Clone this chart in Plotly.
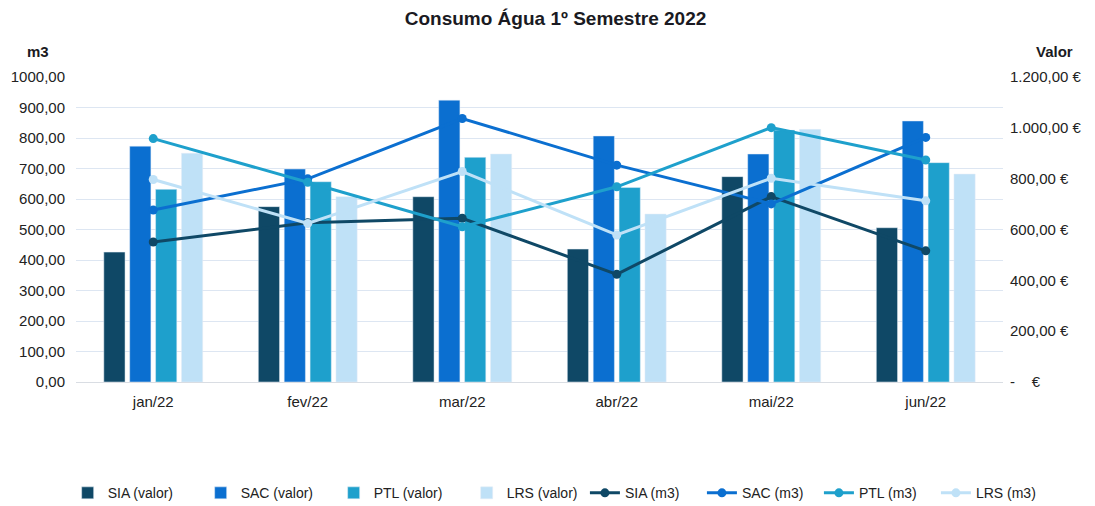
import plotly.graph_objects as go

months = ["jan/22", "fev/22", "mar/22", "abr/22", "mai/22", "jun/22"]

# valor (€) - bars, right axis
sia_valor = [511, 690, 729, 523, 808, 607]
sac_valor = [928, 838, 1109, 968, 897, 1027]
ptl_valor = [758, 788, 884, 765, 991, 863]
lrs_valor = [900, 729, 897, 661, 994, 818]

# consumo (m3) - lines, left axis
sia_m3 = [459, 522, 537, 353, 608, 430]
sac_m3 = [564, 666, 864, 711, 584, 802]
ptl_m3 = [798, 655, 509, 640, 834, 728]
lrs_m3 = [664, 520, 690, 482, 668, 594]

left_ticks = list(range(0, 1001, 100))
left_text = [f"{v},00" for v in left_ticks]
right_ticks = list(range(0, 1201, 200))
right_text = ["-\u00a0\u00a0\u00a0\u00a0€", "200,00 €", "400,00 €", "600,00 €",
              "800,00 €", "1.000,00 €", "1.200,00 €"]

colors = {"SIA": "#0f4866", "SAC": "#0b6fd0", "PTL": "#1ea0cc", "LRS": "#bfe1f7"}
font_family = "Liberation Sans Narrow, Arial Narrow, Liberation Sans, sans-serif"

fig = go.Figure()

# bars on the primary axis (drawn first), shown on the right side
for name, vals in [("SIA", sia_valor), ("SAC", sac_valor), ("PTL", ptl_valor), ("LRS", lrs_valor)]:
    fig.add_trace(go.Bar(
        x=months, y=vals, name=f"{name} (valor)",
        marker=dict(color=colors[name]), yaxis="y", legend="legend"
    ))

# lines on the overlaying axis so they sit on top of the bars
for name, vals in [("SIA", sia_m3), ("SAC", sac_m3), ("PTL", ptl_m3), ("LRS", lrs_m3)]:
    fig.add_trace(go.Scatter(
        x=months, y=vals, name=f"{name} (m3)", mode="lines+markers",
        line=dict(color=colors[name], width=3),
        marker=dict(color=colors[name], size=9), yaxis="y2", legend="legend2"
    ))

# page body adds an 8px offset, margins compensate for it
fig.update_layout(
    width=1095, height=506,
    paper_bgcolor="white", plot_bgcolor="white",
    font=dict(family=font_family, color="#222", size=14),
    title=dict(text="<b>Consumo Água 1º Semestre 2022</b>", x=0.5, y=0.98,
               xanchor="center", yanchor="middle", font=dict(size=19, color="#1a1a22")),
    margin=dict(l=68, r=100, t=69, b=132),
    barmode="group", bargap=0.33, bargroupgap=0.18,
    showlegend=True,
    legend=dict(orientation="h", x=-0.009, xanchor="left", yref="container",
                y=0.041, yanchor="middle",
                font=dict(size=14, color="#222"), entrywidth=88, itemwidth=30),
    legend2=dict(orientation="h", x=0.549, xanchor="left", yref="container",
                 y=0.041, yanchor="middle",
                 font=dict(size=14, color="#222"), entrywidth=72, itemwidth=30),
    xaxis=dict(showgrid=False, showline=True, linecolor="#d9dde3", linewidth=1,
               ticks="", tickfont=dict(size=15), automargin=False, ticklabelstandoff=6),
    yaxis=dict(range=[0, 1200], tickvals=right_ticks, ticktext=right_text,
               side="right", showgrid=False, zeroline=False,
               tickfont=dict(size=15), automargin=False, ticklabelstandoff=6),
    yaxis2=dict(range=[0, 1000], tickvals=left_ticks, ticktext=left_text,
                overlaying="y", side="left", showgrid=True,
                gridcolor="#dde6f2", gridwidth=1, zeroline=False,
                tickfont=dict(size=15), automargin=False, ticklabelstandoff=10),
)

fig.add_annotation(text="<b>m3</b>", x=-0.041, xref="paper", y=1.082, yref="paper",
                   xanchor="center", yanchor="middle", showarrow=False,
                   font=dict(size=15, color="#1a1a22"))
fig.add_annotation(text="<b>Valor</b>", x=1.056, xref="paper", y=1.082, yref="paper",
                   xanchor="center", yanchor="middle", showarrow=False,
                   font=dict(size=15, color="#1a1a22"))

fig.write_html("out.html")
